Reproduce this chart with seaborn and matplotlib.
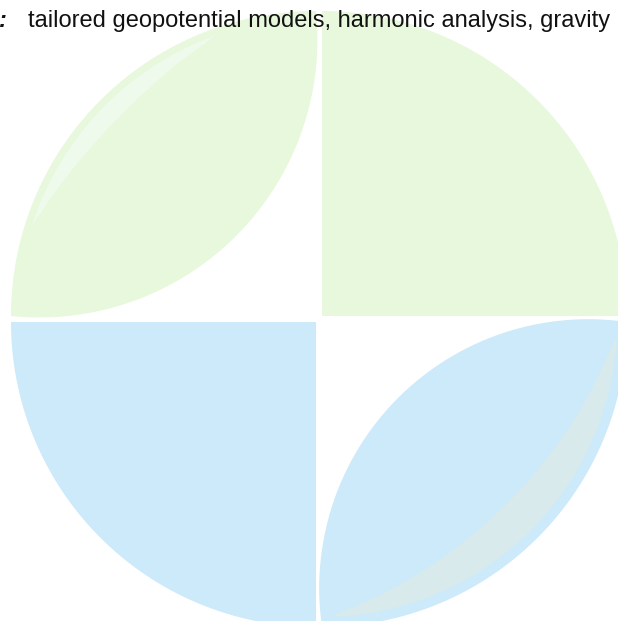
import numpy as np
import matplotlib.pyplot as plt
import seaborn as sns

sns.set_theme(style="white")
plt.rcParams["font.family"] = ["Liberation Sans", "DejaVu Sans"]

# Caption text along the top
caption = "tailored geopotential models, harmonic analysis, gravity"
lead_mark = ":"

# Four quarters of the disc (pixel space, y grows downwards)
quadrants = ["top-left", "top-right", "bottom-left", "bottom-right"]
quad_colors = ["#e8f8dc", "#e8f8dc", "#cdeafa", "#cdeafa"]
quad_shape = ["lens", "quarter", "quarter", "lens"]
corner_x = [316, 322, 316, 322]
corner_y = [316, 316, 322, 322]
start_angle = [180, 270, 90, 0]
radius = 305
lens_bulge = [80, 0, 0, 76]

# Soft highlight band inside each lens
band_colors = ["#eefaec", None, None, "#d8eaeb"]
band_from = [198, 0, 0, 3]
band_to = [250, 0, 0, 88]
band_margin = [7, 0, 0, 10]
band_width = [18, 0, 0, 36]


def arc(cx, cy, r, a0, a1, n=200):
    t = np.radians(np.linspace(a0, a1, n))
    return cx + r * np.cos(t), cy + r * np.sin(t)


fig = plt.figure(figsize=(6.18, 6.21), dpi=100)
ax = fig.add_axes([0, 0, 1, 1])
ax.set_xlim(0, 618)
ax.set_ylim(621, 0)
ax.axis("off")

for i, name in enumerate(quadrants):
    cx, cy = corner_x[i], corner_y[i]
    a0 = start_angle[i]
    ox, oy = arc(cx, cy, radius, a0, a0 + 90)
    if quad_shape[i] == "quarter":
        xs = np.concatenate([[cx], ox])
        ys = np.concatenate([[cy], oy])
    else:
        # inner edge of the lens: circle through both tips, bulging to the corner
        p = lens_bulge[i]
        k = (2 * p**2 - radius**2) / (4 * p - 2 * radius)
        beta = np.radians(a0 + 45)
        c2x = cx + k * np.sqrt(2) * np.cos(beta)
        c2y = cy + k * np.sqrt(2) * np.sin(beta)
        rr = np.hypot(radius - k, k)
        back = np.degrees(beta) + 180
        tip_a = np.array([ox[0] - c2x, oy[0] - c2y]) / rr
        delta = np.degrees(np.arccos(np.clip(
            tip_a @ np.array([np.cos(np.radians(back)), np.sin(np.radians(back))]), -1, 1)))
        ix, iy = arc(c2x, c2y, rr, back - delta, back + delta)
        if np.hypot(ix[0] - ox[-1], iy[0] - oy[-1]) > np.hypot(ix[-1] - ox[-1], iy[-1] - oy[-1]):
            ix, iy = ix[::-1], iy[::-1]
        xs = np.concatenate([ox, ix])
        ys = np.concatenate([oy, iy])
    ax.fill(xs, ys, color=quad_colors[i], lw=0, zorder=1)

    if band_colors[i] is not None:
        t = np.linspace(0, 1, 200)
        ang = np.radians(band_from[i] + (band_to[i] - band_from[i]) * t)
        r_out = radius - band_margin[i] * np.ones_like(t)
        r_in = r_out - band_width[i] * np.sin(np.pi * t) ** 0.8
        bx = np.concatenate([cx + r_out * np.cos(ang), (cx + r_in * np.cos(ang))[::-1]])
        by = np.concatenate([cy + r_out * np.sin(ang), (cy + r_in * np.sin(ang))[::-1]])
        ax.fill(bx, by, color=band_colors[i], lw=0, zorder=2)

# caption, scaled to span the measured width
txt = ax.text(28, 27, caption, fontsize=14, color="#111111", va="baseline", ha="left", zorder=5)
fig.canvas.draw()
w = txt.get_window_extent().width
txt.set_fontsize(14 * 584 / w)

ax.text(-1, 27, lead_mark, fontsize=17, fontweight="bold", style="italic",
        color="#111111", va="baseline", ha="left", zorder=5)

plt.savefig("out.png", dpi=100)
